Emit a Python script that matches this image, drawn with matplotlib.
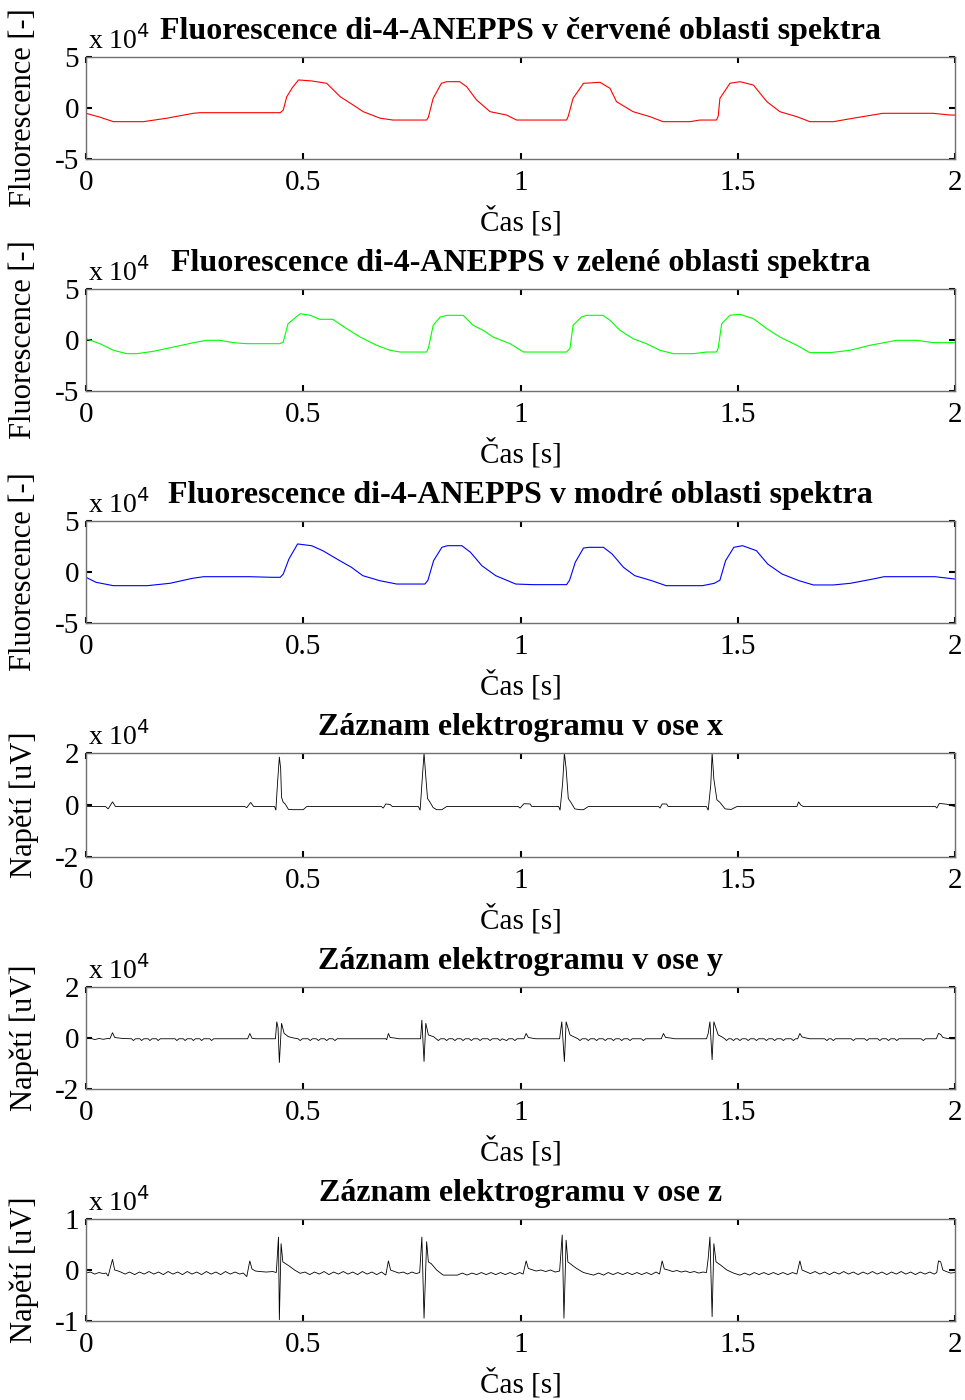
import matplotlib
matplotlib.use("Agg")
import matplotlib.pyplot as plt

plt.rcParams['font.family'] = ['Liberation Serif', 'DejaVu Serif']

# ---------------- data (values in units of 1e4) ----------------
red_t = [0, 0.032, 0.063, 0.132, 0.186, 0.247, 0.262, 0.447, 0.454, 0.462, 0.475, 0.489, 0.52, 0.554, 0.585,
         0.615, 0.638, 0.677, 0.706, 0.784, 0.788, 0.799, 0.818, 0.83, 0.86, 0.876, 0.899, 0.930, 0.968, 0.991,
         1.022, 1.106, 1.11, 1.121, 1.145, 1.183, 1.206, 1.221, 1.259, 1.298, 1.328, 1.39, 1.413, 1.451, 1.455,
         1.459, 1.482, 1.505, 1.536, 1.567, 1.597, 1.636, 1.666, 1.72, 1.766, 1.834, 1.95, 1.988, 2.0]
red_v = [-0.52, -0.9, -1.34, -1.34, -1.0, -0.52, -0.46, -0.46, -0.2, 1.1, 2.0, 2.75, 2.65, 2.42, 1.11,
         0.29, -0.36, -1.0, -1.18, -1.18, -0.9, 0.95, 2.42, 2.58, 2.58, 2.09, 0.78, -0.36, -0.69, -1.18,
         -1.18, -1.18, -0.8, 0.95, 2.42, 2.52, 1.93, 0.62, -0.36, -0.85, -1.34, -1.34, -1.18, -1.18, -0.8,
         0.95, 2.42, 2.58, 2.25, 0.62, -0.36, -0.85, -1.34, -1.34, -1.0, -0.52, -0.52, -0.69, -0.69]

green_t = [0, 0.032, 0.063, 0.094, 0.117, 0.155, 0.201, 0.255, 0.278, 0.308, 0.339, 0.37, 0.446, 0.454, 0.465,
           0.493, 0.516, 0.538, 0.568, 0.6, 0.631, 0.669, 0.7, 0.723, 0.784, 0.788, 0.799, 0.815, 0.83, 0.868,
           0.891, 0.914, 0.937, 0.976, 1.007, 1.106, 1.114, 1.121, 1.14, 1.152, 1.19, 1.206, 1.229, 1.259, 1.29,
           1.321, 1.352, 1.398, 1.428, 1.451, 1.455, 1.463, 1.482, 1.505, 1.536, 1.567, 1.597, 1.636, 1.666,
           1.712, 1.758, 1.804, 1.866, 1.912, 1.95, 2.0]
green_v = [0.13, -0.36, -1.01, -1.34, -1.34, -1.11, -0.69, -0.2, -0.03, -0.03, -0.26, -0.36, -0.36, -0.2, 1.6,
           2.58, 2.42, 2.03, 2.03, 1.11, 0.29, -0.52, -1.01, -1.18, -1.18, -0.8, 1.44, 2.25, 2.42, 2.42,
           1.44, 0.95, 0.29, -0.36, -1.18, -1.18, -0.8, 1.44, 2.25, 2.42, 2.42, 1.93, 0.95, 0.13, -0.36,
           -1.01, -1.34, -1.34, -1.18, -1.18, -0.8, 1.6, 2.42, 2.52, 2.09, 1.11, 0.29, -0.52, -1.24,
           -1.24, -1.01, -0.52, -0.03, -0.03, -0.26, -0.26]

blue_t = [0, 0.023, 0.063, 0.141, 0.193, 0.245, 0.271, 0.376, 0.428, 0.447, 0.454, 0.467, 0.487, 0.519, 0.545,
          0.584, 0.611, 0.637, 0.676, 0.715, 0.78, 0.787, 0.8, 0.819, 0.832, 0.865, 0.885, 0.911, 0.943, 0.989,
          1.028, 1.106, 1.113, 1.126, 1.145, 1.158, 1.191, 1.211, 1.237, 1.263, 1.302, 1.335, 1.419, 1.446,
          1.459, 1.472, 1.491, 1.511, 1.543, 1.569, 1.602, 1.641, 1.674, 1.72, 1.759, 1.811, 1.837, 1.954, 2.0]
blue_v = [-0.52, -1.01, -1.34, -1.34, -1.11, -0.62, -0.46, -0.46, -0.52, -0.52, -0.2, 1.27, 2.75, 2.58, 2.09,
          1.11, 0.46, -0.36, -0.85, -1.18, -1.18, -0.8, 1.11, 2.42, 2.58, 2.58, 1.93, 0.62, -0.36, -1.18,
          -1.24, -1.24, -0.8, 0.95, 2.35, 2.42, 2.42, 1.76, 0.46, -0.36, -0.85, -1.34, -1.34, -1.11,
          -0.8, 1.11, 2.42, 2.58, 2.09, 0.78, -0.2, -0.85, -1.27, -1.27, -1.11, -0.69, -0.46, -0.46, -0.69]

ecgx_pts = [(0, -0.06), (0.045, -0.06), (0.051, -0.15), (0.061, 0.12), (0.068, -0.06), (0.365, -0.06),
            (0.370, -0.1), (0.379, 0.1), (0.386, -0.06), (0.434, -0.06), (0.437, -0.2), (0.441, 0.9),
            (0.445, 1.85), (0.448, 1.4), (0.450, 0.3), (0.454, 0.1), (0.458, 0.05), (0.466, -0.17),
            (0.477, -0.18), (0.5, -0.18), (0.508, -0.06), (0.680, -0.06), (0.684, -0.12), (0.690, 0.04),
            (0.700, 0.02), (0.705, -0.06), (0.765, -0.06), (0.769, -0.2), (0.773, 0.8), (0.778, 2.0),
            (0.782, 1.1), (0.786, 0.25), (0.792, 0.1), (0.799, -0.1), (0.807, -0.18), (0.819, -0.18),
            (0.830, -0.06), (0.995, -0.06), (0.999, -0.12), (1.008, 0.05), (1.022, 0.04), (1.026, -0.06),
            (1.088, -0.06), (1.091, -0.2), (1.097, 0.85), (1.101, 2.0), (1.105, 1.4), (1.110, 0.25),
            (1.116, 0.1), (1.125, -0.15), (1.137, -0.18), (1.145, -0.18), (1.156, -0.06), (1.318, -0.06),
            (1.321, -0.12), (1.326, 0.04), (1.336, 0.04), (1.340, -0.06), (1.428, -0.06), (1.432, -0.2),
            (1.438, 0.8), (1.441, 2.0), (1.445, 1.0), (1.452, 0.2), (1.459, 0.1), (1.471, -0.15),
            (1.485, -0.17), (1.498, -0.06), (1.636, -0.06), (1.640, 0.12), (1.645, 0.0), (1.651, -0.06),
            (1.955, -0.06), (1.958, -0.12), (1.964, 0.06), (1.981, 0.03), (2.0, -0.06)]

ecgy_pts = [(0, -0.03), (0.01, -0.01), (0.02, -0.06), (0.03, -0.02), (0.04, -0.05), (0.05, -0.02), (0.055, -0.03),
            (0.061, 0.21), (0.066, 0.02), (0.075, 0.0), (0.085, -0.02), (0.1, -0.03),
            (0.105, -0.03), (0.109, -0.1), (0.114, -0.03), (0.124, -0.03), (0.128, -0.1), (0.133, -0.03),
            (0.143, -0.03), (0.147, -0.1), (0.152, -0.03), (0.162, -0.03), (0.166, -0.1), (0.171, -0.03),
            (0.205, -0.03), (0.209, -0.1), (0.214, -0.03), (0.224, -0.03), (0.228, -0.1), (0.233, -0.03),
            (0.243, -0.03), (0.247, -0.1), (0.252, -0.03), (0.262, -0.03), (0.266, -0.1), (0.271, -0.03),
            (0.285, -0.03), (0.289, -0.1), (0.294, -0.03),
            (0.372, -0.03), (0.377, 0.18), (0.382, -0.01), (0.39, -0.03), (0.436, -0.03),
            (0.439, 0.64), (0.442, 0.4), (0.445, -0.97), (0.450, 0.58), (0.456, 0.18), (0.466, 0.05),
            (0.478, 0.0), (0.488, -0.03),
            (0.493, -0.1), (0.498, -0.03), (0.511, -0.03), (0.516, -0.1), (0.521, -0.03), (0.530, -0.03),
            (0.535, -0.1), (0.540, -0.03), (0.549, -0.03), (0.554, -0.1), (0.559, -0.03), (0.568, -0.03),
            (0.573, -0.1), (0.578, -0.03),
            (0.69, -0.03), (0.692, -0.07), (0.696, 0.18), (0.70, 0.02), (0.71, 0.0), (0.72, -0.03), (0.77, -0.03),
            (0.773, 0.71), (0.778, -0.93), (0.782, 0.58), (0.788, 0.12), (0.80, 0.05), (0.806, -0.03),
            (0.811, -0.1), (0.816, -0.03), (0.825, -0.03), (0.830, -0.1), (0.835, -0.03), (0.844, -0.03),
            (0.849, -0.1), (0.854, -0.03), (0.863, -0.03), (0.868, -0.1), (0.873, -0.03), (0.882, -0.03),
            (0.887, -0.1), (0.892, -0.03), (0.902, -0.03), (0.907, -0.1), (0.912, -0.03), (0.925, -0.03),
            (0.930, -0.1), (0.935, -0.03), (0.948, -0.03), (0.953, -0.1), (0.958, -0.03), (0.968, -0.1),
            (0.973, -0.03), (0.982, -0.03), (0.987, -0.1), (0.992, -0.03),
            (1.008, -0.03), (1.013, 0.18), (1.018, 0.02), (1.025, 0.0), (1.035, -0.03), (1.09, -0.03),
            (1.095, 0.64), (1.101, -0.93), (1.105, 0.64), (1.114, 0.12), (1.125, 0.03), (1.132, -0.03),
            (1.137, -0.1), (1.142, -0.03), (1.151, -0.03), (1.156, -0.1), (1.161, -0.03), (1.170, -0.03),
            (1.175, -0.1), (1.180, -0.03), (1.190, -0.03), (1.195, -0.1), (1.200, -0.03), (1.209, -0.03),
            (1.214, -0.1), (1.219, -0.03), (1.228, -0.03), (1.233, -0.1), (1.238, -0.03), (1.247, -0.03),
            (1.252, -0.1), (1.257, -0.03), (1.278, -0.03), (1.283, -0.1), (1.288, -0.03),
            (1.324, -0.03), (1.329, 0.18), (1.334, 0.02), (1.345, 0.0), (1.355, -0.03), (1.428, -0.03),
            (1.432, 0.18), (1.436, 0.64), (1.441, -0.86), (1.445, 0.64), (1.455, 0.12), (1.465, 0.03),
            (1.470, -0.03),
            (1.474, -0.1), (1.479, -0.03), (1.485, -0.03), (1.49, -0.1), (1.495, -0.03), (1.500, -0.03),
            (1.505, -0.1), (1.510, -0.03), (1.519, -0.03), (1.524, -0.1), (1.529, -0.03), (1.538, -0.03),
            (1.543, -0.1), (1.548, -0.03), (1.561, -0.03), (1.566, -0.1), (1.571, -0.03), (1.580, -0.03),
            (1.585, -0.1), (1.590, -0.03), (1.600, -0.03), (1.605, -0.1), (1.610, -0.03), (1.623, -0.03),
            (1.628, -0.1), (1.633, -0.03),
            (1.638, -0.03), (1.643, 0.18), (1.648, 0.04), (1.655, 0.01), (1.665, -0.03),
            (1.700, -0.03), (1.705, -0.1), (1.710, -0.03), (1.715, -0.03), (1.72, -0.1), (1.725, -0.03),
            (1.761, -0.03), (1.766, -0.1), (1.771, -0.03), (1.792, -0.03), (1.797, -0.1), (1.802, -0.03),
            (1.822, -0.03), (1.827, -0.1), (1.832, -0.03), (1.842, -0.03), (1.847, -0.1), (1.852, -0.03),
            (1.861, -0.03), (1.866, -0.1), (1.871, -0.03), (1.922, -0.03), (1.927, -0.1), (1.932, -0.03),
            (1.957, -0.03), (1.962, 0.18), (1.967, 0.14), (1.972, 0.02), (1.98, -0.01), (1.99, -0.03),
            (2.0, -0.03)]

ecgz_pts = [(0.0, -0.06), (0.01, -0.04), (0.02, -0.08), (0.03, -0.05), (0.04, -0.07), (0.046, -0.06),
            (0.051, -0.12), (0.061, 0.21), (0.066, 0.0), (0.071, -0.01), (0.08, -0.04),
            (0.09, -0.08), (0.10, -0.04), (0.112, -0.09), (0.123, -0.04), (0.134, -0.08), (0.145, -0.03),
            (0.156, -0.08), (0.167, -0.04), (0.178, -0.09), (0.189, -0.03), (0.2, -0.08), (0.211, -0.04),
            (0.222, -0.09), (0.233, -0.03), (0.244, -0.08), (0.255, -0.04), (0.266, -0.09), (0.277, -0.03),
            (0.288, -0.08), (0.299, -0.04), (0.31, -0.09), (0.321, -0.03), (0.332, -0.08), (0.343, -0.04),
            (0.354, -0.08), (0.362, -0.06),
            (0.370, -0.13), (0.377, 0.18), (0.382, 0.02), (0.39, -0.02), (0.40, -0.03), (0.415, -0.04),
            (0.43, -0.03), (0.438, -0.05),
            (0.443, 0.65), (0.445, -0.98), (0.449, 0.52), (0.453, 0.16), (0.46, 0.12), (0.469, 0.07),
            (0.48, 0.0), (0.493, -0.065),
            (0.504, -0.04), (0.515, -0.09), (0.526, -0.04), (0.537, -0.08), (0.548, -0.03), (0.559, -0.09),
            (0.57, -0.04), (0.581, -0.08), (0.592, -0.03), (0.603, -0.08), (0.614, -0.04), (0.625, -0.09),
            (0.636, -0.03), (0.647, -0.08), (0.658, -0.04), (0.669, -0.09), (0.68, -0.04), (0.69, -0.1),
            (0.696, 0.18), (0.701, 0.0), (0.71, -0.03), (0.72, -0.06), (0.73, -0.04), (0.74, -0.08),
            (0.75, -0.04), (0.76, -0.07), (0.768, -0.05),
            (0.773, 0.65), (0.778, -0.95), (0.784, 0.56), (0.788, 0.16), (0.795, 0.12), (0.807, 0.0),
            (0.822, -0.1), (0.84, -0.1), (0.855, -0.1),
            (0.866, -0.06), (0.877, -0.1), (0.888, -0.06), (0.899, -0.09), (0.91, -0.05), (0.921, -0.09),
            (0.932, -0.05), (0.943, -0.09), (0.954, -0.05), (0.965, -0.09), (0.976, -0.05), (0.987, -0.09),
            (0.998, -0.05), (1.006, -0.08),
            (1.013, 0.18), (1.018, 0.03), (1.025, 0.01), (1.036, -0.02), (1.047, 0.0), (1.058, -0.03),
            (1.069, 0.0), (1.08, -0.04), (1.09, -0.02),
            (1.096, 0.69), (1.100, -0.95), (1.105, 0.59), (1.109, 0.16), (1.118, 0.1), (1.129, 0.03),
            (1.145, -0.05), (1.168, -0.1),
            (1.18, -0.06), (1.191, -0.1), (1.202, -0.05), (1.213, -0.09), (1.224, -0.05), (1.235, -0.09),
            (1.246, -0.05), (1.257, -0.09), (1.268, -0.05), (1.279, -0.09), (1.29, -0.05), (1.301, -0.09),
            (1.312, -0.04), (1.32, -0.08),
            (1.326, 0.18), (1.331, 0.02), (1.34, 0.0), (1.35, -0.03), (1.36, -0.01), (1.37, -0.04),
            (1.38, -0.02), (1.39, -0.05), (1.40, -0.03), (1.41, -0.06), (1.42, -0.04), (1.428, -0.05),
            (1.432, 0.23), (1.436, 0.65), (1.441, -0.92), (1.445, 0.52), (1.450, 0.16), (1.46, 0.1),
            (1.475, 0.0), (1.49, -0.06), (1.505, -0.1),
            (1.516, -0.06), (1.527, -0.1), (1.538, -0.05), (1.549, -0.09), (1.56, -0.05), (1.571, -0.09),
            (1.582, -0.05), (1.593, -0.09), (1.604, -0.05), (1.615, -0.09), (1.626, -0.05), (1.636, -0.08),
            (1.643, 0.18), (1.648, 0.0), (1.656, -0.03), (1.667, -0.07), (1.678, -0.03), (1.689, -0.08),
            (1.7, -0.04), (1.711, -0.09), (1.722, -0.04), (1.733, -0.08), (1.744, -0.03), (1.755, -0.08),
            (1.766, -0.04), (1.777, -0.09), (1.788, -0.04), (1.799, -0.08), (1.81, -0.03), (1.821, -0.08),
            (1.832, -0.04), (1.843, -0.09), (1.854, -0.04), (1.865, -0.08), (1.876, -0.03), (1.887, -0.08),
            (1.898, -0.04), (1.909, -0.09), (1.92, -0.04), (1.931, -0.08), (1.942, -0.04), (1.952, -0.08),
            (1.958, -0.05), (1.962, 0.18), (1.967, 0.16), (1.972, 0.0), (1.98, -0.03), (1.99, -0.06),
            (2.0, -0.05)]

titles = ["Fluorescence di-4-ANEPPS v červené oblasti spektra",
          "Fluorescence di-4-ANEPPS v zelené oblasti spektra",
          "Fluorescence di-4-ANEPPS v modré oblasti spektra",
          "Záznam elektrogramu v ose x",
          "Záznam elektrogramu v ose y",
          "Záznam elektrogramu v ose z"]
ylabels = ["Fluorescence [-]"] * 3 + ["Napětí [uV]"] * 3
xlabel = "Čas [s]"
x_ticks = [0, 0.5, 1, 1.5, 2]
x_ticklabels = ["0", "0.5", "1", "1.5", "2"]
y_ticks_list = [[-5, 0, 5]] * 3 + [[-2, 0, 2]] * 2 + [[-1, 0, 1]]
offset_label = "x 10$^{4}$"

series = [(red_t, red_v), (green_t, green_v), (blue_t, blue_v),
          tuple(map(list, zip(*ecgx_pts))), tuple(map(list, zip(*ecgy_pts))), tuple(map(list, zip(*ecgz_pts)))]
colors = ["#ff0000", "#00ff00", "#0000ff", "#000000", "#000000", "#000000"]
lws = [0.8, 0.8, 0.8, 0.6, 0.6, 0.6]

# ---------------- layout (pixels) ----------------
W, H = 965, 1400
tops = [57, 289, 521, 753, 987, 1219]
bots = [159, 391, 623, 857, 1089, 1321]
left_px, right_px = 86, 955

fig = plt.figure(figsize=(W / 100, H / 100), dpi=100)
fig.patch.set_facecolor("white")

for i in range(6):
    ax = fig.add_axes([left_px / W, 1 - bots[i] / H, (right_px - left_px) / W, (bots[i] - tops[i]) / H])
    t, v = series[i]
    ax.plot(t, v, color=colors[i], lw=lws[i], solid_joinstyle="miter")
    ax.set_xlim(0, 2)
    yt = y_ticks_list[i]
    ax.set_ylim(yt[0], yt[-1])
    ax.set_xticks(x_ticks)
    ax.set_xticklabels(x_ticklabels)
    ax.set_yticks(yt)
    ax.set_yticklabels([str(k) for k in yt])
    ax.tick_params(direction="in", length=4, width=1.5, color="k", top=True, right=True,
                   labelsize=21, pad=8)
    ax.tick_params(axis="y", pad=5)
    for sp in ax.spines.values():
        sp.set_color("#707070")
        sp.set_linewidth(1.0)
    ax.set_title(titles[i], fontsize=23, fontweight="bold", pad=13)
    ax.text(0.002, 1.02, offset_label, transform=ax.transAxes, ha="left", va="bottom", fontsize=20)
    cy = (tops[i] + bots[i]) / 2
    fig.text(24 / W, 1 - cy / H, ylabels[i], rotation=90, ha="center", va="center", fontsize=22)
    fig.text((left_px + right_px) / 2 / W, 1 - (bots[i] + 62) / H, xlabel, ha="center", va="center",
             fontsize=21)

fig.savefig("out.png", dpi=100, facecolor="white")
